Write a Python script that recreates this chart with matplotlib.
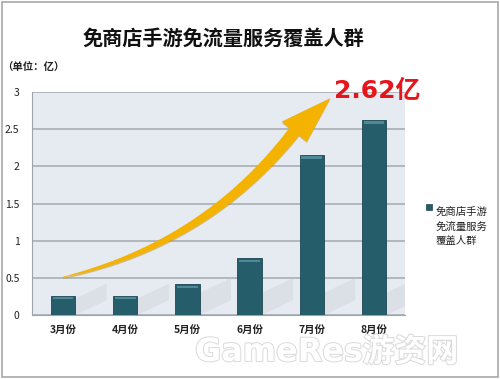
import numpy as np
import matplotlib
matplotlib.use('Agg')
import matplotlib.pyplot as plt
from matplotlib.patches import Polygon, Rectangle
import matplotlib.patheffects as pe

plt.rcParams['font.family'] = ['Noto Sans CJK SC', 'DejaVu Sans']

# Data
months = ['3月份', '4月份', '5月份', '6月份', '7月份', '8月份']
users = [0.26, 0.26, 0.41, 0.76, 2.15, 2.62]
y_ticks = [0, 0.5, 1, 1.5, 2, 2.5, 3]
y_tick_labels = ['0', '0.5', '1', '1.5', '2', '2.5', '3']
title = '免商店手游免流量服务覆盖人群'
unit_text = '（单位：亿）'
series_name = '免商店手游\n免流量服务\n覆盖人群'
callout = '2.62亿'

bar_color = '#255d6b'
panel_color = '#e6eaf1'
grid_color = '#a9adb4'

fig = plt.figure(figsize=(5, 3.79), dpi=100)
fig.patch.set_facecolor('white')
ax = fig.add_axes([0.064, 0.169, 0.746, 0.588])
ax.set_facecolor(panel_color)

x = np.arange(len(months))
ax.set_xlim(-0.5, len(months) - 0.5)
ax.set_ylim(0, 3)

# soft shadows behind bars
for xi, v in zip(x, users):
    h = min(v, 0.35) * 0.85
    shadow = Polygon([[xi + 0.2, 0], [xi + 0.2, h], [xi + 0.7, h + 0.2], [xi + 0.7, 0.2]],
                     closed=True, facecolor='#cfd3d9', edgecolor='none', alpha=0.45, zorder=1)
    ax.add_patch(shadow)

bars = ax.bar(x, users, width=0.39, color=bar_color, edgecolor='#1c4752',
              linewidth=0.6, zorder=3)
# bevel highlight on top of bars
for b in bars:
    top = b.get_height()
    ax.add_patch(Rectangle((b.get_x() + 0.03, top - 0.05), b.get_width() - 0.06, 0.035,
                           facecolor='#4f8896', edgecolor='none', zorder=4))

ax.set_yticks(y_ticks)
ax.set_yticklabels(y_tick_labels, fontsize=7.5, color='#222222')
ax.set_xticks(x)
ax.set_xticklabels(months, fontsize=7.5, fontweight='bold', color='#222222')
ax.tick_params(length=0, pad=7)
ax.tick_params(axis='y', pad=9)
ax.yaxis.grid(True, color=grid_color, linewidth=1.2, zorder=0)
ax.set_axisbelow(True)
for side in ['top', 'right']:
    ax.spines[side].set_visible(False)
ax.spines['left'].set_color('#a0a4aa')
ax.spines['bottom'].set_color('#a0a4aa')

# curved growth arrow, built in pixel space from data anchors
fig.canvas.draw()
tail = ax.transData.transform((0.0, 0.51))
head_base = ax.transData.transform((3.72, 2.47))
tip = ax.transData.transform((4.30, 2.92))
ctrl = ax.transData.transform((2.3, 0.95))
t = np.linspace(0, 1, 60)
curve = ((1 - t)[:, None] ** 2) * tail + (2 * (1 - t) * t)[:, None] * ctrl + (t[:, None] ** 2) * head_base
d = np.gradient(curve, axis=0)
nrm = np.stack([-d[:, 1], d[:, 0]], axis=1)
nrm /= np.linalg.norm(nrm, axis=1)[:, None]
w = 0.3 + 5.8 * t ** 0.8
upper = curve + nrm * w[:, None]
lower = curve - nrm * w[:, None]
n_end = nrm[-1]
head = np.array([head_base + n_end * 16, tip, head_base - n_end * 16])
body = np.vstack([upper, head_base + n_end * 6, head, head_base - n_end * 6, lower[::-1]])
fig.patches.append(Polygon(body - np.array([0, 1.5]), closed=True, facecolor='#c08a00',
                           edgecolor='none', transform=None, zorder=5, alpha=0.5))
fig.patches.append(Polygon(body, closed=True, facecolor='#f4b300', edgecolor='none',
                           transform=None, zorder=6))

# callout value
ax.text(4.35, 3.02, callout, fontsize=18, fontweight='bold', color='#e8141c',
        ha='left', va='center', zorder=7, clip_on=False, family=['DejaVu Sans', 'Noto Sans CJK SC'])

fig.text(0.447, 0.9, title, fontsize=14.5, fontweight='bold', ha='center', va='center', color='#111111')
fig.text(0.004, 0.82, unit_text, fontsize=7.5, fontweight='bold', ha='left', va='center', color='#222222')

# legend
fig.patches.append(Rectangle((0.852, 0.447), 0.011, 0.014, facecolor=bar_color,
                             edgecolor='#1c4752', linewidth=0.5, transform=fig.transFigure))
fig.text(0.872, 0.455, series_name, fontsize=7.5, ha='left', va='top', linespacing=1.55, color='#222222')

# watermark
wm = fig.text(0.39, 0.07, 'GameRes', fontsize=23, fontweight='bold', color='white',
              ha='left', va='center', family=['DejaVu Sans'])
wm.set_path_effects([pe.withStroke(linewidth=1.5, foreground='#dcdcdc')])
wm2 = fig.text(0.725, 0.07, '游资网', fontsize=23, fontweight='bold', color='white',
               ha='left', va='center')
wm2.set_path_effects([pe.withStroke(linewidth=1.5, foreground='#dcdcdc')])

# outer frame
fig.patches.append(Rectangle((0.004, 0.005), 0.992, 0.99, fill=False, edgecolor='#a8a8a8',
                             linewidth=1.2, transform=fig.transFigure))

fig.savefig('out.png', dpi=100)
